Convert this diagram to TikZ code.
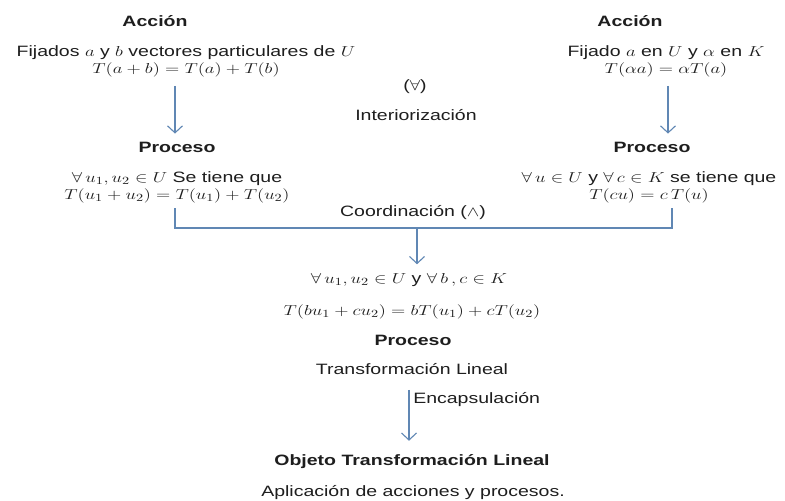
\documentclass[tikz,border=0pt]{standalone}
\usepackage{fontspec}
\setmainfont{Liberation Sans}
\usetikzlibrary{arrows.meta}
\definecolor{txt}{RGB}{30,30,30}
\definecolor{arrc}{RGB}{96,135,180}
\begin{document}
\begin{tikzpicture}[x=1pt,y=-1pt,
  every node/.style={inner sep=0pt, text=txt, xscale=1.3, align=center,
    font=\fontsize{15}{17}\selectfont},
  head/.style={font=\fontsize{15}{17}\selectfont\bfseries},
  arr/.style={draw=arrc, line width=1.1pt, -{Straight Barb[length=7pt,width=15pt]}},
  link/.style={draw=arrc, line width=1.1pt}]
\useasboundingbox[fill=white] (0,0) rectangle (785,501);
% top row
\node[head] (accL) at (155,21) {Acción};
\node (fijL) at (186,61) {Fijados $a$ y $b$ vectores particulares de $U$\\ $T(a+b)=T(a)+T(b)$};
\node[head] (accR) at (630,21) {Acción};
\node (fijR) at (666,61) {Fijado $a$ en $U$ y $\alpha$ en $K$\\ $T(\alpha a)=\alpha T(a)$};
\node (forall) at (415,87) {($\forall$)};
\node (inter) at (416,115) {Interiorización};
% process row
\node[head] (proL) at (177,147) {Proceso};
\node (texL) at (177,187) {$\forall\, u_1,u_2\in U$ Se tiene que\\ $T(u_1+u_2)=T(u_1)+T(u_2)$};
\node[head] (proR) at (652,147) {Proceso};
\node (texR) at (649,187) {$\forall\, u\in U$ y $\forall\, c\in K$ se tiene que\\ $T(cu)=c\,T(u)$};
\node (coord) at (413,213) {Coordinación ($\wedge$)};
% middle
\node (mid1) at (409,280) {$\forall\, u_1,u_2\in U$ y $\forall\, b\,,c\in K$};
\node (mid2) at (412,312) {$T(bu_1+cu_2)=bT(u_1)+cT(u_2)$};
\node[head] (proM) at (413,340) {Proceso};
\node (tl) at (412,369) {Transformación Lineal};
\node[anchor=west] (enc) at (413,400) {Encapsulación};
\node[head] (obj) at (412,462) {Objeto Transformación Lineal};
\node (apl) at (413,493) {Aplicación de acciones y procesos.};
% connectors
\coordinate (jL) at (175,208);
\coordinate (jR) at (672,208);
\coordinate (hub) at (417,228);
\draw[arr, shorten <=9pt, shorten >=8pt] (fijL.south -| jL) -- (proL.north -| jL);
\draw[arr, shorten <=9pt, shorten >=8pt] (fijR.south -| 668,0) -- (proR.north -| 668,0);
\draw[link] (jL) |- (hub) -| (jR);
\draw[arr, shorten >=9pt] (hub) -- (hub |- mid1.north);
\draw[arr, shorten <=15pt, shorten >=14pt] (tl.south -| mid1) -- (obj.north -| mid1);
\end{tikzpicture}
\end{document}
